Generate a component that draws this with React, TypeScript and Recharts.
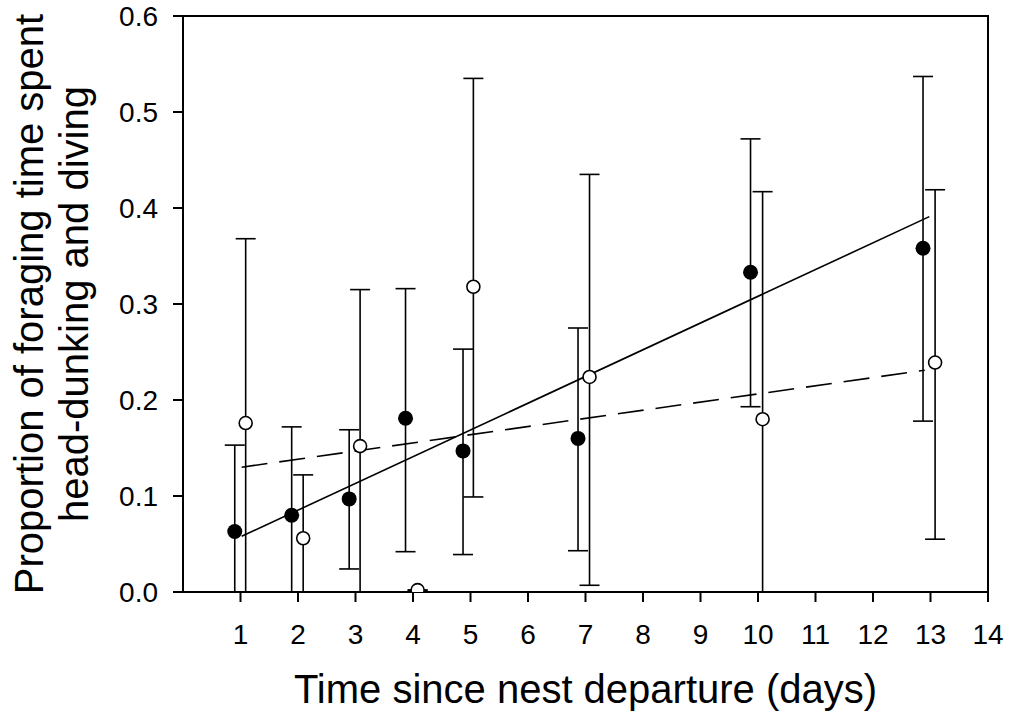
import {
  ScatterChart,
  Scatter,
  XAxis,
  YAxis,
  ErrorBar,
  ReferenceArea,
} from 'recharts';

// Tick labels
const xTicks = [1, 2, 3, 4, 5, 6, 7, 8, 9, 10, 11, 12, 13, 14];
const yTicks = [0, 0.1, 0.2, 0.3, 0.4, 0.5, 0.6];

// Filled circles (plotted just left of the day)
const filledX = [0.9, 1.89, 2.89, 3.87, 4.87, 6.87, 9.87, 12.87];
const filledMean = [0.063, 0.08, 0.097, 0.181, 0.147, 0.16, 0.333, 0.358];
const filledLow = [0, 0, 0.024, 0.042, 0.039, 0.043, 0.193, 0.178];
const filledHigh = [0.153, 0.172, 0.169, 0.316, 0.253, 0.275, 0.472, 0.537];

// Open circles (plotted just right of the day)
const openX = [1.09, 2.09, 3.08, 4.08, 5.05, 7.07, 10.08, 13.08];
const openMean = [0.176, 0.056, 0.152, 0.002, 0.318, 0.224, 0.18, 0.239];
const openLow = [0, 0, 0, 0.002, 0.099, 0.007, 0, 0.055];
const openHigh = [0.368, 0.122, 0.315, 0.002, 0.535, 0.435, 0.417, 0.419];

// Regression line end points
const solidFitX = [1.02, 12.98];
const solidFitY = [0.058, 0.391];
const dashedFitX = [1.02, 12.9];
const dashedFitY = [0.13, 0.231];

const toPoints = (xs: number[], ys: number[], lows?: number[], highs?: number[]) =>
  xs.map((x, i) => ({
    x,
    y: ys[i],
    err: lows && highs ? [ys[i] - lows[i], highs[i] - ys[i]] : [0, 0],
  }));

const filledData = toPoints(filledX, filledMean, filledLow, filledHigh);
const openData = toPoints(openX, openMean, openLow, openHigh);
const solidFit = toPoints(solidFitX, solidFitY);
const dashedFit = toPoints(dashedFitX, dashedFitY);

const FilledDot = (props: any) => (
  <circle cx={props.cx} cy={props.cy} r={7.5} fill="#000" />
);

const OpenDot = (props: any) => (
  <circle cx={props.cx} cy={props.cy} r={6.5} fill="#fff" stroke="#000" strokeWidth={1.6} />
);

const NoDot = () => <g />;

// Two-line rotated y axis title
const YTitle = ({ viewBox }: { viewBox?: any }) => {
  const cy = viewBox.y + viewBox.height / 2;
  const lines = [
    { x: 43, text: 'Proportion of foraging time spent' },
    { x: 88, text: 'head-dunking and diving' },
  ];
  return (
    <g>
      {lines.map((l) => (
        <text
          key={l.x}
          x={l.x}
          y={cy}
          transform={`rotate(-90, ${l.x}, ${cy})`}
          textAnchor="middle"
          fontSize={40}
          fill="#000"
        >
          {l.text}
        </text>
      ))}
    </g>
  );
};

export default function App() {
  return (
    <div
      style={{
        position: 'absolute',
        left: 0,
        top: 0,
        background: '#fff',
        fontFamily: '"Liberation Sans", Arial, Helvetica, sans-serif',
      }}
    >
      <ScatterChart
        width={1009}
        height={721}
        margin={{ top: 16, right: 21, bottom: 0, left: 0 }}
      >
        <XAxis
          type="number"
          dataKey="x"
          domain={[0, 14]}
          ticks={xTicks}
          allowDataOverflow
          height={129}
          stroke="#000"
          strokeWidth={2}
          tickSize={10}
          tickMargin={22}
          tick={{ fontSize: 28, fill: '#000' }}
          label={{
            value: 'Time since nest departure (days)',
            position: 'insideBottom',
            offset: 18,
            fontSize: 40,
            fill: '#000',
          }}
        />
        <YAxis
          type="number"
          dataKey="y"
          domain={[0, 0.6]}
          ticks={yTicks}
          allowDataOverflow
          width={183}
          stroke="#000"
          strokeWidth={2}
          tickSize={10}
          tickMargin={15}
          tickFormatter={(v: number) => v.toFixed(1)}
          tick={{ fontSize: 28, fill: '#000' }}
          label={<YTitle />}
        />
        <ReferenceArea
          x1={0}
          x2={14}
          y1={0}
          y2={0.6}
          fill="none"
          fillOpacity={0}
          stroke="#000"
          strokeWidth={2}
        />
        <Scatter
          data={solidFit}
          line={{ stroke: '#000', strokeWidth: 1.6 }}
          shape={NoDot}
          isAnimationActive={false}
        />
        <Scatter
          data={dashedFit}
          line={{ stroke: '#000', strokeWidth: 1.6, strokeDasharray: '26 12' }}
          shape={NoDot}
          isAnimationActive={false}
        />
        <Scatter data={filledData} shape={FilledDot} isAnimationActive={false}>
          <ErrorBar
            dataKey="err"
            direction="y"
            width={10}
            stroke="#000"
            strokeWidth={1.6}
            isAnimationActive={false}
          />
        </Scatter>
        <Scatter data={openData} shape={OpenDot} isAnimationActive={false}>
          <ErrorBar
            dataKey="err"
            direction="y"
            width={10}
            stroke="#000"
            strokeWidth={1.6}
            isAnimationActive={false}
          />
        </Scatter>
      </ScatterChart>
    </div>
  );
}
